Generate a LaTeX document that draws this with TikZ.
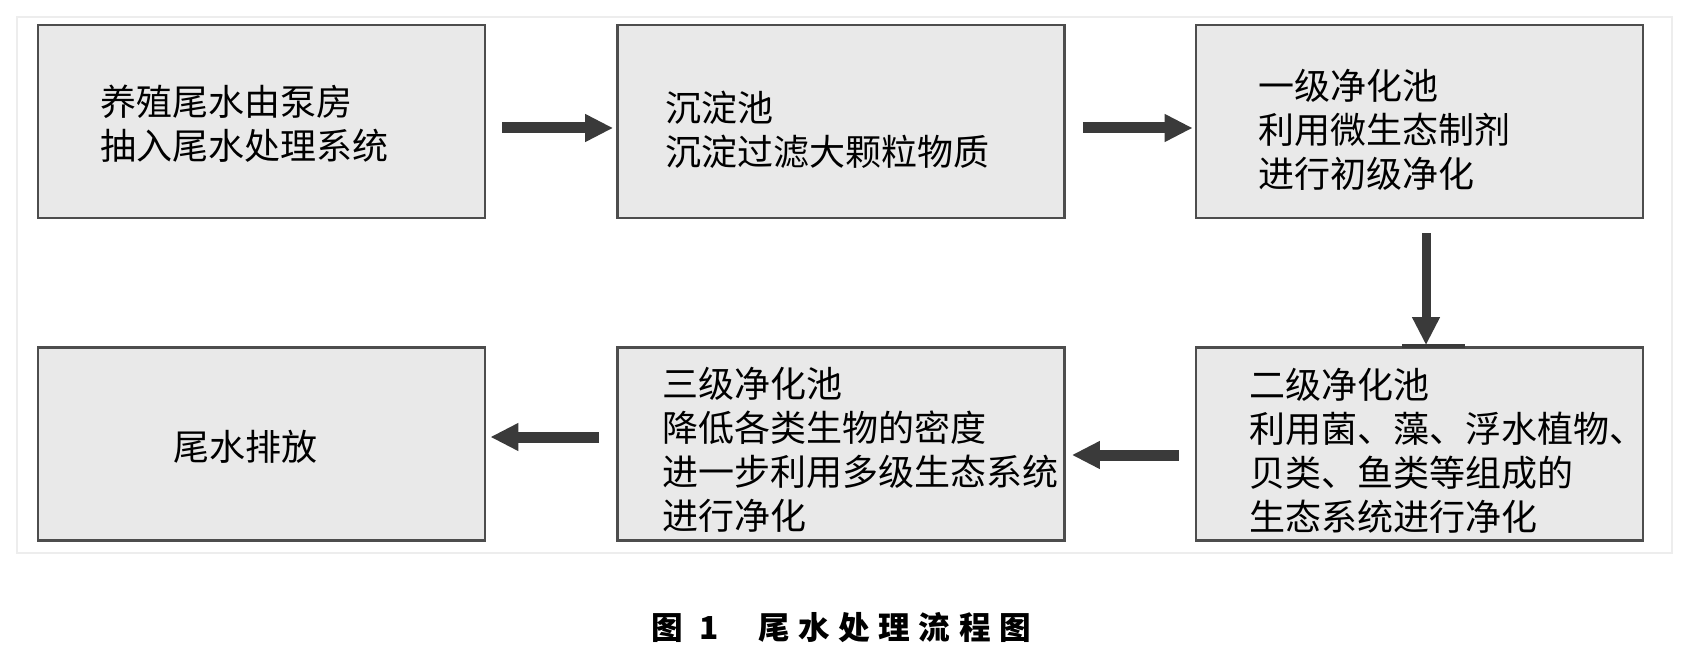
\documentclass[tikz,border=0pt]{standalone}
\usepackage{fontspec}
\newfontfamily\cjk{Noto Sans CJK SC}
\usetikzlibrary{arrows.meta}
\definecolor{poolfill}{HTML}{E9E9E9}
\definecolor{poolline}{HTML}{4D4D4D}
\definecolor{flowgray}{HTML}{3A3A3A}
\begin{document}
\begin{tikzpicture}[x=0.02cm, y=-0.02cm,
  pool/.style={draw=poolline, fill=poolfill, line width=0.055cm,
    minimum width=8.94cm, minimum height=3.86cm, inner sep=0pt},
  txt/.style={anchor=west, align=left, inner sep=0pt,
    font=\cjk\fontsize{20.5pt}{25pt}\selectfont},
  flow/.style={draw=flowgray, line width=0.22cm,
    -{Triangle[length=0.56cm, width=0.52cm]}}]
\useasboundingbox (0,0) rectangle (1696,658);

%faint frame
\draw[black!7, line width=0.03cm] (17,17) rectangle (1672,553);

%top row
\node[pool] (b1) at (261.5,121.5) {};
\node[pool] (b2) at (841,121.5) {};
\node[pool] (b3) at (1419.5,121.5) {};
\node[txt] (t1) at (100,123.5) {养殖尾水由泵房\\抽入尾水处理系统};
\node[txt] (t2) at (665,130) {沉淀池\\沉淀过滤大颗粒物质};
\node[txt] (t3) at (1258,130) {一级净化池\\利用微生态制剂\\进行初级净化};

%bottom row
\node[pool] (b4) at (261.5,444) {};
\node[pool] (b5) at (841,444) {};
\node[pool] (b6) at (1419.5,444) {};
\node[txt] (t4) at (173,447) {尾水排放};
\node[txt] (t5) at (662,450) {三级净化池\\降低各类生物的密度\\进一步利用多级生态系统\\进行净化};
\node[txt] (t6) at (1249,451) {二级净化池\\利用菌、藻、浮水植物、\\贝类、鱼类等组成的\\生态系统进行净化};

%arrows
\draw[flow] ([shift={(16,6.5)}]b1.east) -- ([shift={(-3,6.5)}]b2.west);
\draw[flow] ([shift={(17,6.5)}]b2.east) -- ([shift={(-2,6.5)}]b3.west);
\draw[flow, line width=0.18cm] ([shift={(6.5,14)}]b3.south) -- ([shift={(6.5,-1)}]b6.north);
\draw[flow] ([shift={(-16,11)}]b6.west) -- ([shift={(6,11)}]b5.east);
\draw[flow] ([shift={(-17,-7)}]b5.west) -- ([shift={(4,-7)}]b4.east);
\draw[flowgray, line width=0.08cm] ([xshift=-0.35cm]b6.north) -- ([xshift=0.91cm]b6.north);

%caption
\node[anchor=west, inner sep=0pt, font=\cjk\bfseries\fontsize{18pt}{20pt}\selectfont\addfontfeatures{LetterSpace=27}]
  (cap) at (651,628) {图\hspace{0.34cm}1\hspace{0.78cm}尾水处理流程图};
\end{tikzpicture}
\end{document}
